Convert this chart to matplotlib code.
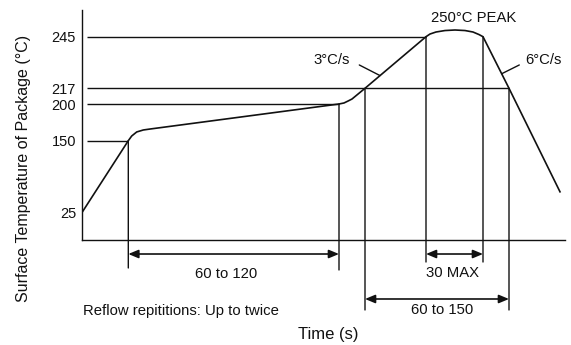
import numpy as np
import matplotlib
matplotlib.use("Agg")
import matplotlib.pyplot as plt

plt.rcParams['font.family'] = ['Liberation Sans', 'DejaVu Sans']

# reflow profile (schematic time position, temperature in C)
t_profile = [0, 46.3, 49.7, 54.7, 61.3, 68, 257, 262, 266, 270, 283, 344,
             348, 354, 363, 373, 383, 391, 397, 401, 427, 478]
T_profile = [25, 150, 156.4, 161.9, 164.6, 165.9, 200, 201.1, 203.2, 205.4, 217, 245,
             247.0, 248.5, 249.6, 250, 249.6, 248.5, 246.6, 245, 217, 61]

# the temperature axis is not to scale: piecewise breakpoints
scale_temps = [-23, 25, 150, 200, 217, 245, 250, 265]
scale_pos = [0, 27.5, 99.3, 136, 151.7, 203.3, 210, 230]

temp_ticks = [25, 150, 200, 217, 245]
tick_labels = ['25', '150', '200', '217', '245']

# key time positions
t_150 = 46.3
t_200 = 257
t_217_up = 283
t_245_up = 344
t_245_down = 401
t_217_down = 427

def fwd(T):
    return np.interp(T, scale_temps, scale_pos)

def inv(p):
    return np.interp(p, scale_pos, scale_temps)

fig = plt.figure(figsize=(5.71, 3.45), dpi=100)
ax = fig.add_axes([82 / 571, 105 / 345, 483 / 571, 230 / 345])
ax.set_yscale('function', functions=(fwd, inv))
ax.set_xlim(0, 483)
ax.set_ylim(-23, 265)

ink = '#111111'
for s in ['top', 'right']:
    ax.spines[s].set_visible(False)
for s in ['left', 'bottom']:
    ax.spines[s].set_linewidth(1.0)
    ax.spines[s].set_color(ink)

ax.set_xticks([])
ax.set_yticks(temp_ticks)
ax.set_yticklabels(tick_labels)
ax.tick_params(axis='y', length=0, pad=4.3, labelsize=10.5, labelcolor=ink)

# horizontal reference lines
ax.hlines(245, 4.7, t_245_up, color=ink, lw=1.0)
ax.hlines(217, 4.7, t_217_down, color=ink, lw=1.0)
ax.hlines(200, 4.7, t_200, color=ink, lw=1.0)
ax.hlines(150, 4.7, t_150, color=ink, lw=1.0)

# profile curve
ax.plot(t_profile, T_profile, color=ink, lw=1.2, solid_joinstyle='round')

trans = ax.get_xaxis_transform()

# vertical guide lines going below the axis
guides = [(t_150, 150, -0.1217), (t_200, 200, -0.1304),
          (t_217_up, 217, -0.3043), (t_217_down, 217, -0.3043),
          (t_245_up, 245, -0.0957), (t_245_down, 245, -0.0957)]
for t, T, low in guides:
    ax.annotate('', xy=(t, T), xycoords='data', xytext=(t, low), textcoords=trans,
                arrowprops=dict(arrowstyle='-', color=ink, lw=1.0, shrinkA=0, shrinkB=0),
                annotation_clip=False)

# dimension arrows
dims = [(t_150, t_200, -0.0609), (t_245_up, t_245_down, -0.0609),
        (t_217_up, t_217_down, -0.2565)]
for t1, t2, y in dims:
    ax.annotate('', xy=(t2, y), xycoords=trans, xytext=(t1, y), textcoords=trans,
                arrowprops=dict(arrowstyle='<|-|>,head_length=0.6,head_width=0.25',
                                mutation_scale=10, color=ink, lw=1.2,
                                shrinkA=0, shrinkB=0),
                annotation_clip=False)

fs = 10.7
ax.text(144, -0.148, '60 to 120', transform=trans, ha='center', va='center', fontsize=fs, color=ink)
ax.text(371, -0.1435, '30 MAX', transform=trans, ha='center', va='center', fontsize=fs, color=ink)
ax.text(360.5, -0.3043, '60 to 150', transform=trans, ha='center', va='center', fontsize=fs, color=ink)
ax.text(1, -0.309, 'Reflow repititions: Up to twice', transform=trans, ha='left', va='center',
        fontsize=fs, color=ink)

ax.text(392, 0.964, '250°C PEAK', transform=trans, ha='center', va='center', fontsize=fs, color=ink)
ax.text(250, 0.7826, '3°C/s', transform=trans, ha='center', va='center', fontsize=fs, color=ink)
ax.text(461, 0.7826, '6°C/s', transform=trans, ha='center', va='center', fontsize=fs, color=ink)

# slope leader lines
ax.annotate('', xy=(298, 223.9), xycoords='data', xytext=(277.3, 0.761), textcoords=trans,
            arrowprops=dict(arrowstyle='-', color=ink, lw=1.0, shrinkA=0, shrinkB=0))
ax.annotate('', xy=(419.7, 224.9), xycoords='data', xytext=(437.3, 0.761), textcoords=trans,
            arrowprops=dict(arrowstyle='-', color=ink, lw=1.0, shrinkA=0, shrinkB=0))

ax.set_xlabel('Time (s)', fontsize=12, color=ink)
ax.xaxis.set_label_coords(0.509, -0.413)
ax.xaxis.label.set_verticalalignment('center')
ax.set_ylabel('Surface Temperature of Package (°C)', fontsize=11.5, color=ink)
ax.yaxis.set_label_coords(-0.122, 0.313)
ax.yaxis.label.set_verticalalignment('center')

fig.savefig('out.png', dpi=100)
